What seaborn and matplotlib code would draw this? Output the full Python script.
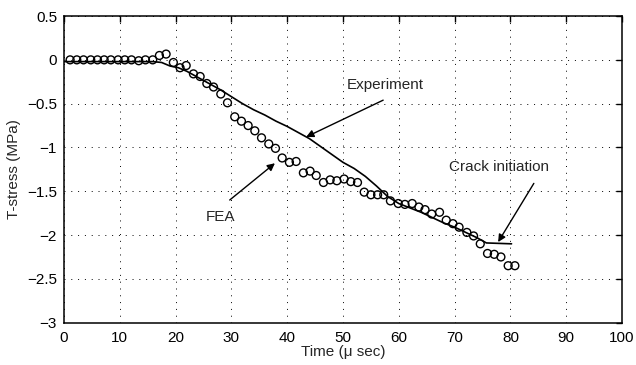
import matplotlib
matplotlib.use("Agg")
import matplotlib.pyplot as plt
import seaborn as sns
import pandas as pd

# FEA results (open circles)
fea_time = [1.1, 2.3, 3.5, 4.8, 6.0, 7.2, 8.4, 9.7, 10.9, 12.1, 13.4, 14.6, 15.9,
            17.1, 18.3, 19.6, 20.8, 21.9, 23.2, 24.4, 25.6, 26.8, 28.1, 29.3,
            30.6, 31.8, 33.0, 34.2, 35.4, 36.7, 37.9, 39.1, 40.4, 41.6, 42.9,
            44.1, 45.2, 46.5, 47.7, 48.9, 50.2, 51.4, 52.6, 53.8, 55.0, 56.2,
            57.3, 58.5, 59.9, 61.1, 62.4, 63.6, 64.7, 65.9, 67.3, 68.5, 69.7,
            70.8, 72.2, 73.4, 74.6, 75.9, 77.1, 78.3, 79.6, 80.8]
fea_stress = [0.0, 0.0, 0.0, 0.0, 0.0, 0.0, 0.0, 0.0, 0.0, 0.0, -0.01, 0.0, 0.0,
              0.05, 0.066, -0.03, -0.09, -0.065, -0.16, -0.19, -0.27, -0.31, -0.39, -0.49,
              -0.65, -0.70, -0.75, -0.81, -0.89, -0.96, -1.01, -1.12, -1.17, -1.16, -1.29,
              -1.27, -1.32, -1.40, -1.37, -1.38, -1.36, -1.39, -1.40, -1.51, -1.54, -1.54,
              -1.54, -1.61, -1.64, -1.65, -1.64, -1.68, -1.71, -1.76, -1.74, -1.83, -1.87,
              -1.91, -1.97, -2.01, -2.10, -2.21, -2.22, -2.25, -2.35, -2.35]

# Experimental curve (solid line)
exp_time = [0, 4, 8, 12, 16, 17.5, 19, 20.5, 22, 24, 26, 28, 30, 32, 34, 36, 38,
            40, 42, 44, 46, 48, 50, 52, 54, 56, 58, 60, 62, 64, 66, 68, 70, 72,
            74, 75.7, 80.2]
exp_stress = [-0.02, -0.02, -0.02, -0.02, -0.02, -0.03, -0.07, -0.09, -0.13, -0.20,
              -0.27, -0.34, -0.42, -0.50, -0.57, -0.63, -0.70, -0.76, -0.83, -0.90,
              -0.99, -1.08, -1.17, -1.24, -1.33, -1.44, -1.56, -1.64, -1.69, -1.74,
              -1.80, -1.86, -1.91, -1.97, -2.03, -2.09, -2.10]

x_ticks = [0, 10, 20, 30, 40, 50, 60, 70, 80, 90, 100]
y_ticks = [0.5, 0, -0.5, -1, -1.5, -2, -2.5, -3]
y_tick_labels = ["0.5", "0", "\u22120.5", "\u22121", "\u22121.5", "\u22122", "\u22122.5", "\u22123"]

sns.set_style("white")
plt.rcParams['font.family'] = ['Liberation Sans', 'DejaVu Sans']

fig = plt.figure(figsize=(6.36, 3.65), dpi=100)
ax = fig.add_axes([0.1006, 0.116, 0.8774, 0.840])

exp_df = pd.DataFrame({"t": exp_time, "s": exp_stress})
fea_df = pd.DataFrame({"t": fea_time, "s": fea_stress})

sns.lineplot(data=exp_df, x="t", y="s", ax=ax, color="black", linewidth=1.2,
             estimator=None, sort=False)
sns.scatterplot(data=fea_df, x="t", y="s", ax=ax, marker="o", s=32,
                facecolor="none", edgecolor="black", linewidth=1.0, zorder=3)

ax.set_xlim(0, 100)
ax.set_ylim(-3, 0.5)
ax.set_xticks(x_ticks)
ax.set_yticks(y_ticks)
ax.set_yticklabels(y_tick_labels)
ax.grid(True, color="black", linestyle=(0, (1, 6)), linewidth=0.7)
ax.tick_params(direction="in", length=4, width=1.0, top=True, right=True,
               labelsize=11, colors="black")
ax.tick_params(axis="x", pad=6)
ax.tick_params(axis="y", pad=5)
for sp in ax.spines.values():
    sp.set_color("black")
    sp.set_linewidth(1.1)

ax.set_xlabel("Time (\u03bc sec)", fontsize=11, labelpad=0)
ax.set_ylabel("T-stress (MPa)", fontsize=11, labelpad=4)

arrow = dict(arrowstyle="-|>", color="black", linewidth=1.0, mutation_scale=11,
             shrinkA=0, shrinkB=0)
ax.text(57.5, -0.29, "Experiment", ha="center", va="center", fontsize=11)
ax.annotate("", xy=(43.4, -0.88), xytext=(57.2, -0.46), arrowprops=arrow)
ax.text(28.1, -1.79, "FEA", ha="center", va="center", fontsize=11)
ax.annotate("", xy=(37.8, -1.18), xytext=(29.7, -1.60), arrowprops=arrow)
ax.text(78.0, -1.22, "Crack initiation", ha="center", va="center", fontsize=11)
ax.annotate("", xy=(77.8, -2.08), xytext=(84.2, -1.41), arrowprops=arrow)

fig.savefig("out.png", dpi=100)
